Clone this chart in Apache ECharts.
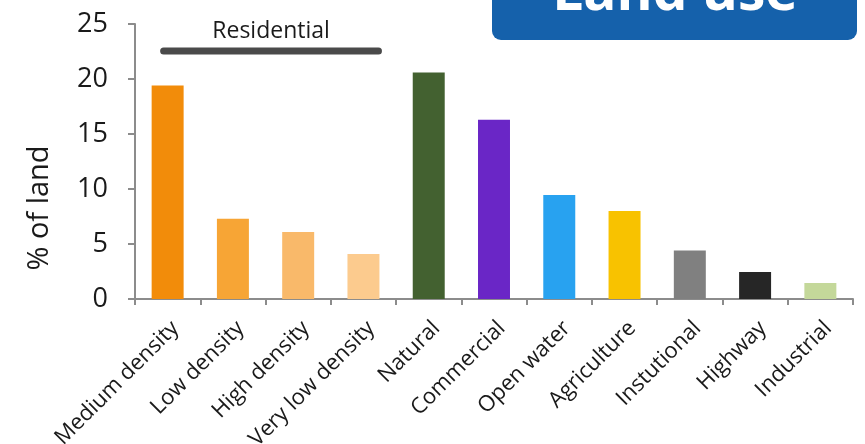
<!DOCTYPE html>
<html>
<head>
<meta charset="utf-8">
<script src="https://cdn.jsdelivr.net/npm/echarts@6/dist/echarts.min.js"></script>
<style>
  html, body { margin: 0; padding: 0; background: #fff; }
  #chart { width: 865px; height: 444px; }
</style>
</head>
<body>
<div id="chart"></div>
<script>
  // land use categories and shares
  const categories = ['Medium density', 'Low density', 'High density', 'Very low density',
    'Natural', 'Commercial', 'Open water', 'Agriculture', 'Instutional', 'Highway', 'Industrial'];
  const values = [19.4, 7.3, 6.1, 4.1, 20.6, 16.3, 9.45, 8.0, 4.4, 2.45, 1.45];
  const colors = ['#F28C0A', '#F7A535', '#F9B96A', '#FCCB8E', '#436130', '#6A26C6',
    '#28A2F0', '#F8C200', '#808080', '#262626', '#C4D89A'];
  const yTicks = [0, 5, 10, 15, 20, 25];
  const residentialSpan = [0, 3];

  const font = '"Open Sans", "Noto Sans", sans-serif';
  const axisColor = '#8c8c8c';

  const chart = echarts.init(document.getElementById('chart'));
  chart.setOption({
    animation: false,
    grid: { left: 135, right: 12, top: 24, bottom: 145, outerBoundsMode: 'none' },
    xAxis: {
      type: 'category',
      data: categories,
      axisLine: { lineStyle: { color: axisColor, width: 2 } },
      axisTick: { show: true, alignWithLabel: false, length: 6, lineStyle: { color: axisColor, width: 2 } },
      axisLabel: {
        interval: 0,
        rotate: 45,
        margin: 18,
        verticalAlign: 'top',
        color: '#1a1a1a',
        fontSize: 22,
        fontFamily: font
      }
    },
    yAxis: {
      type: 'value',
      min: yTicks[0],
      max: yTicks[yTicks.length - 1],
      interval: 5,
      axisLine: { show: true, lineStyle: { color: axisColor, width: 2 } },
      axisTick: { show: true, length: 7, lineStyle: { color: axisColor, width: 2 } },
      splitLine: { show: false },
      axisLabel: { color: '#1a1a1a', fontSize: 27, fontFamily: font, margin: 27 }
    },
    series: [{
      type: 'bar',
      barWidth: '49%',
      data: values.map((v, i) => ({ value: v, itemStyle: { color: colors[i] } }))
    }]
  });

  // annotation: residential bracket, axis title, title box
  const x0 = chart.convertToPixel({ xAxisIndex: 0 }, residentialSpan[0]) - 4;
  const x1 = chart.convertToPixel({ xAxisIndex: 0 }, residentialSpan[1]) + 15;
  chart.setOption({
    graphic: [
      {
        type: 'line',
        shape: { x1: x0, y1: 51, x2: x1, y2: 51 },
        style: { stroke: '#4a4a4a', lineWidth: 7, lineCap: 'round' }
      },
      {
        type: 'text',
        x: (x0 + x1) / 2,
        y: 31,
        style: {
          text: 'Residential', fill: '#1a1a1a', fontSize: 23, fontFamily: font,
          align: 'center', verticalAlign: 'middle'
        }
      },
      {
        type: 'text',
        x: 40,
        y: 208,
        rotation: Math.PI / 2,
        style: {
          text: '% of land', fill: '#1a1a1a', fontSize: 29, fontFamily: font,
          align: 'center', verticalAlign: 'middle'
        }
      },
      {
        type: 'rect',
        shape: { x: 492, y: -20, width: 365, height: 60, r: 9 },
        style: { fill: '#1561AB' }
      },
      {
        type: 'text',
        x: 675,
        y: -6,
        style: {
          text: 'Land use', fill: '#ffffff', fontSize: 55, fontWeight: 'bold', fontFamily: font,
          align: 'center', verticalAlign: 'middle'
        }
      }
    ]
  });
</script>
</body>
</html>
